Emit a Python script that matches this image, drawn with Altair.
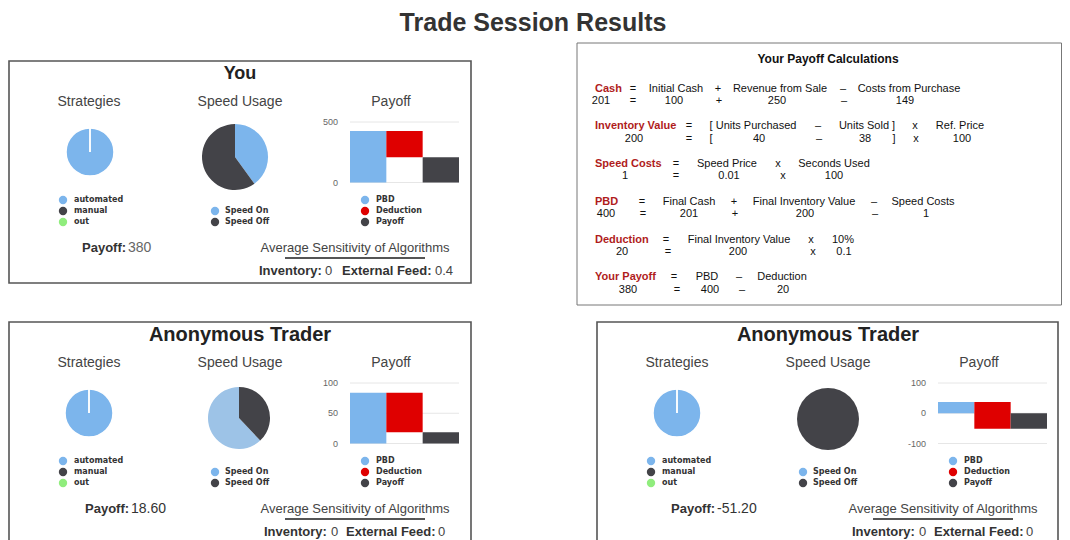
import altair as alt
import pandas as pd

M = 8  # page margin: reference px -> chart px
W, H = 1054, 532

# ---------------- values ----------------
page_title = "Trade Session Results"
panel_titles = ["You", "Anonymous Trader", "Anonymous Trader"]
sub_titles = ["Strategies", "Speed Usage", "Payoff"]

strategy_cats = ["automated", "manual", "out"]
strategy_pct = [[100, 0, 0], [100, 0, 0], [100, 0, 0]]

speed_cats = ["Speed On", "Speed Off"]
speed_pct = [[40, 60], [62, 38], [0, 100]]
speed_first = ["Speed On", "Speed Off", "Speed Off"]  # first slice clockwise from 12 o'clock
speed_highlighted = [False, True, False]  # panel whose "Speed On" slice is shown in hover tint

payoff_cats = ["PBD", "Deduction", "Payoff"]
pbd_values = [425, 84, 37]
final_payoffs = [208, 18.6, -51.2]
payoff_domains = [[0, 500], [0, 100], [-100, 100]]
payoff_ticks = [[0, 500], [0, 50, 100], [-100, 0, 100]]

payoff_text = ["380", "18.60", "-51.20"]
inventory_text = ["0", "0", "0"]
feed_text = ["0.4", "0", "0"]
sensitivity_title = "Average Sensitivity of Algorithms"

calc_title = "Your Payoff Calculations"
calc_labels = [
    ["Cash", "=", "Initial Cash", "+", "Revenue from Sale", "–", "Costs from Purchase"],
    ["Inventory Value", "=", "[ Units Purchased", "–", "Units Sold ]", "x", "Ref. Price"],
    ["Speed Costs", "=", "Speed Price", "x", "Seconds Used"],
    ["PBD", "=", "Final Cash", "+", "Final Inventory Value", "–", "Speed Costs"],
    ["Deduction", "=", "Final Inventory Value", "x", "10%"],
    ["Your Payoff", "=", "PBD", "–", "Deduction"],
]
calc_values = [
    ["201", "=", "100", "+", "250", "–", "149"],
    ["200", "=", "[", "40", "–", "38", "]", "x", "100"],
    ["1", "=", "0.01", "x", "100"],
    ["400", "=", "201", "+", "200", "–", "1"],
    ["20", "=", "200", "x", "0.1"],
    ["380", "=", "400", "–", "20"],
]

# ---------------- styles ----------------
all_cats = strategy_cats + speed_cats + payoff_cats + ["Speed On hover"]
all_colors = ["#7cb5ec", "#434348", "#90ed7d",
              "#7cb5ec", "#434348",
              "#7cb5ec", "#df0000", "#434348",
              "#9dc3e7"]
color_scale = alt.Scale(domain=all_cats, range=all_colors)
FONT = "Liberation Sans"
LEG_FONT = "DejaVu Sans"
RED = "#b01c1c"

# ---------------- layout (reference pixel positions) ----------------
panel_boxes = [(9, 61, 471, 283), (9, 322, 471, 548), (597, 322, 1058, 548)]
calc_box = (577, 43, 1061.5, 305)  # right edge of the reference box lies at the window edge
title_xy = (533, 23)

rel_title = (231, 13)
rel_sub_x = [80, 231, 382]
rel_sub_y = 41
rel_strat_c = [(81, 91), (80, 91), (80, 91)]
strat_r = 24
rel_speed_c = [(226, 96), (230, 96), (231, 97)]
speed_r = [33, 31, 31]
rel_bar_x = (341, 450)
rel_bar_y = (121.5, 61)
rel_tick_x = 329
rel_leg_strat = (54, 65)
rel_leg_speed = (206, 216)
rel_leg_pay = (356, 367)
rel_leg_y = [139, 150, 161]
rel_payoff_x = [73, 76, 74]
rel_payoff_gap = 46
rel_payoff_y = 187
rel_sens = (346, 187)
rel_line = (276, 416, 197)
rel_inv_y = 210
rel_inv_x = [[250, 316, 333, 426], [255, 322, 337, 429], [255, 322, 337, 429]]

calc_title_xy = (828, 59)
calc_row_y = [(89, 101), (126, 139), (164, 176), (202, 214), (240, 252), (277, 290)]
calc_label_x = [
    [595, 633, 676, 718, 780, 843, 909],
    [595, 689, 753, 818, 867, 915, 960],
    [595, 676, 727, 778, 834],
    [595, 642, 689, 734, 804, 874, 923],
    [595, 666, 739, 811, 843],
    [595, 674, 707, 739, 782],
]
calc_value_x = [
    [601, 633, 674, 719, 777, 844, 905],
    [634, 689, 711, 759, 819, 865, 894, 916, 962],
    [625, 676, 729, 783, 834],
    [606, 643, 689, 735, 805, 875, 926],
    [622, 668, 738, 813, 844],
    [628, 677, 710, 742, 783],
]

# ---------------- helpers ----------------
def text_layer(rows, **kw):
    df = pd.DataFrame(rows, columns=["text", "x", "y"])
    df["x"] = df["x"] - M
    df["y"] = df["y"] - M
    style = dict(baseline="middle", font=FONT, color="#333333", align="center")
    style.update(kw)
    return alt.Chart(df).mark_text(**style).encode(
        x=alt.X("x:Q", scale=None), y=alt.Y("y:Q", scale=None), text="text:N")


layers = []

# boxes
box_df = pd.DataFrame(panel_boxes, columns=["x", "y", "x2", "y2"]) - M
layers.append(alt.Chart(box_df).mark_rect(filled=False, stroke="#555555", strokeWidth=1.6).encode(
    x=alt.X("x:Q", scale=None), x2="x2:Q", y=alt.Y("y:Q", scale=None), y2="y2:Q"))
cb_df = pd.DataFrame([calc_box], columns=["x", "y", "x2", "y2"]) - M
layers.append(alt.Chart(cb_df).mark_rect(filled=False, stroke="#777777", strokeWidth=1).encode(
    x=alt.X("x:Q", scale=None), x2="x2:Q", y=alt.Y("y:Q", scale=None), y2="y2:Q"))

# page title
layers.append(text_layer([(page_title, *title_xy)], fontSize=25, fontWeight="bold", color="#333333"))

for i in range(3):
    bx, by = panel_boxes[i][0], panel_boxes[i][1]
    # titles
    layers.append(text_layer([(panel_titles[i], bx + rel_title[0], by + rel_title[1])],
                             fontSize=18 if i == 0 else 20, fontWeight="bold", color="#222222"))
    layers.append(text_layer([(s, bx + sx, by + rel_sub_y) for s, sx in zip(sub_titles, rel_sub_x)],
                             fontSize=14, color="#444444"))

    # strategies pie
    sdf = pd.DataFrame({"cat": strategy_cats, "pct": strategy_pct[i], "ord": [0, 1, 2]})
    cx, cy = rel_strat_c[i]
    layers.append(alt.Chart(sdf).mark_arc(outerRadius=strat_r, stroke="white", strokeWidth=1.5).encode(
        theta=alt.Theta("pct:Q", stack=True, scale=alt.Scale(domain=[0, 100])),
        color=alt.Color("cat:N", scale=color_scale, legend=None),
        order=alt.Order("ord:Q"),
        x=alt.value(bx + cx - M), y=alt.value(by + cy - M)))

    # speed pie
    ords = [0 if c == speed_first[i] else 1 for c in speed_cats]
    keys = [("Speed On hover" if (c == "Speed On" and speed_highlighted[i]) else c) for c in speed_cats]
    pdf = pd.DataFrame({"cat": keys, "pct": speed_pct[i], "ord": ords})
    cx, cy = rel_speed_c[i]
    layers.append(alt.Chart(pdf).mark_arc(outerRadius=speed_r[i]).encode(
        theta=alt.Theta("pct:Q", stack=True, scale=alt.Scale(domain=[0, 100])),
        color=alt.Color("cat:N", scale=color_scale, legend=None),
        order=alt.Order("ord:Q"),
        x=alt.value(bx + cx - M), y=alt.value(by + cy - M)))

    # payoff waterfall
    x0, x1 = bx + rel_bar_x[0] - M, bx + rel_bar_x[1] - M
    ybot, ytop = by + rel_bar_y[0] - M, by + rel_bar_y[1] - M
    ys = alt.Scale(domain=payoff_domains[i], range=[ybot, ytop], nice=False, zero=False)
    xs = alt.Scale(domain=payoff_cats, range=[x0, x1], paddingInner=0, paddingOuter=0)
    tdf = pd.DataFrame({"t": payoff_ticks[i], "lab": [str(t) for t in payoff_ticks[i]]})
    layers.append(alt.Chart(tdf).mark_rule(color="#e6e6e6", strokeWidth=1).encode(
        y=alt.Y("t:Q", scale=ys, axis=None), x=alt.value(x0), x2=alt.value(x1)))
    layers.append(alt.Chart(tdf).mark_text(align="right", baseline="middle", fontSize=9,
                                           font=FONT, color="#666666").encode(
        y=alt.Y("t:Q", scale=ys, axis=None), x=alt.value(bx + rel_tick_x - M), text="lab:N"))
    pbd, fin = pbd_values[i], final_payoffs[i]
    wdf = pd.DataFrame({"cat": payoff_cats, "y0": [0, fin, 0], "y1": [pbd, pbd, fin]})
    layers.append(alt.Chart(wdf).mark_bar().encode(
        x=alt.X("cat:N", scale=xs, axis=None),
        y=alt.Y("y0:Q", scale=ys, axis=None), y2="y1:Q",
        color=alt.Color("cat:N", scale=color_scale, legend=None)))

    # legends
    leg_rows = []
    for cats, (lx, tx), yy in [(strategy_cats, rel_leg_strat, rel_leg_y),
                               (speed_cats, rel_leg_speed, rel_leg_y[1:]),
                               (payoff_cats, rel_leg_pay, rel_leg_y)]:
        for c, y in zip(cats, yy):
            leg_rows.append((c, bx + lx - M, by + y - M, bx + tx))
    ldf = pd.DataFrame(leg_rows, columns=["cat", "x", "y", "tx"])
    layers.append(alt.Chart(ldf).mark_circle(size=70, opacity=1).encode(
        x=alt.X("x:Q", scale=None), y=alt.Y("y:Q", scale=None),
        color=alt.Color("cat:N", scale=color_scale, legend=None)))
    layers.append(text_layer([(r[0], r[3], r[2] + M) for r in leg_rows],
                             font=LEG_FONT, fontSize=8, fontWeight="bold", align="left", color="#333333"))

    # payoff text
    px = bx + rel_payoff_x[i]
    layers.append(text_layer([("Payoff:", px, by + rel_payoff_y)], fontSize=13, fontWeight="bold",
                             align="left", color="#333333"))
    layers.append(text_layer([(payoff_text[i], px + rel_payoff_gap, by + rel_payoff_y)], fontSize=14,
                             align="left", color="#666666" if i == 0 else "#333333"))
    # sensitivity
    layers.append(text_layer([(sensitivity_title, bx + rel_sens[0], by + rel_sens[1])], fontSize=13,
                             color="#444444"))
    ldf2 = pd.DataFrame({"x": [bx + rel_line[0] - M], "x2": [bx + rel_line[1] - M],
                         "y": [by + rel_line[2] - M]})
    layers.append(alt.Chart(ldf2).mark_rule(color="#555555", strokeWidth=2).encode(
        x=alt.X("x:Q", scale=None), x2="x2:Q", y=alt.Y("y:Q", scale=None)))
    ix = rel_inv_x[i]
    iy = by + rel_inv_y
    layers.append(text_layer([("Inventory:", bx + ix[0], iy), ("External Feed:", bx + ix[2], iy)],
                             fontSize=13, fontWeight="bold", align="left", color="#333333"))
    layers.append(text_layer([(inventory_text[i], bx + ix[1], iy), (feed_text[i], bx + ix[3], iy)],
                             fontSize=13, align="left", color="#444444"))

# calculations box
layers.append(text_layer([(calc_title, *calc_title_xy)], fontSize=12, fontWeight="bold", color="#111111"))
red_rows, lab_rows, val_rows = [], [], []
for r in range(len(calc_labels)):
    yl, yv = calc_row_y[r]
    for k, (t, x) in enumerate(zip(calc_labels[r], calc_label_x[r])):
        if k == 0:
            red_rows.append((t, x, yl))
        else:
            lab_rows.append((t, x, yl))
    for t, x in zip(calc_values[r], calc_value_x[r]):
        val_rows.append((t, x, yv))
layers.append(text_layer(red_rows, fontSize=11, fontWeight="bold", color=RED, align="left"))
layers.append(text_layer(lab_rows, fontSize=11, color="#111111"))
layers.append(text_layer(val_rows, fontSize=11, color="#111111"))

chart = alt.layer(*layers).resolve_scale(
    x="independent", y="independent"
).properties(
    width=W, height=H, autosize=alt.AutoSizeParams(type="none"), padding=0, background="white"
).configure_view(stroke=None)

chart.save("out.html", embed_options={"renderer": "svg", "actions": False})
